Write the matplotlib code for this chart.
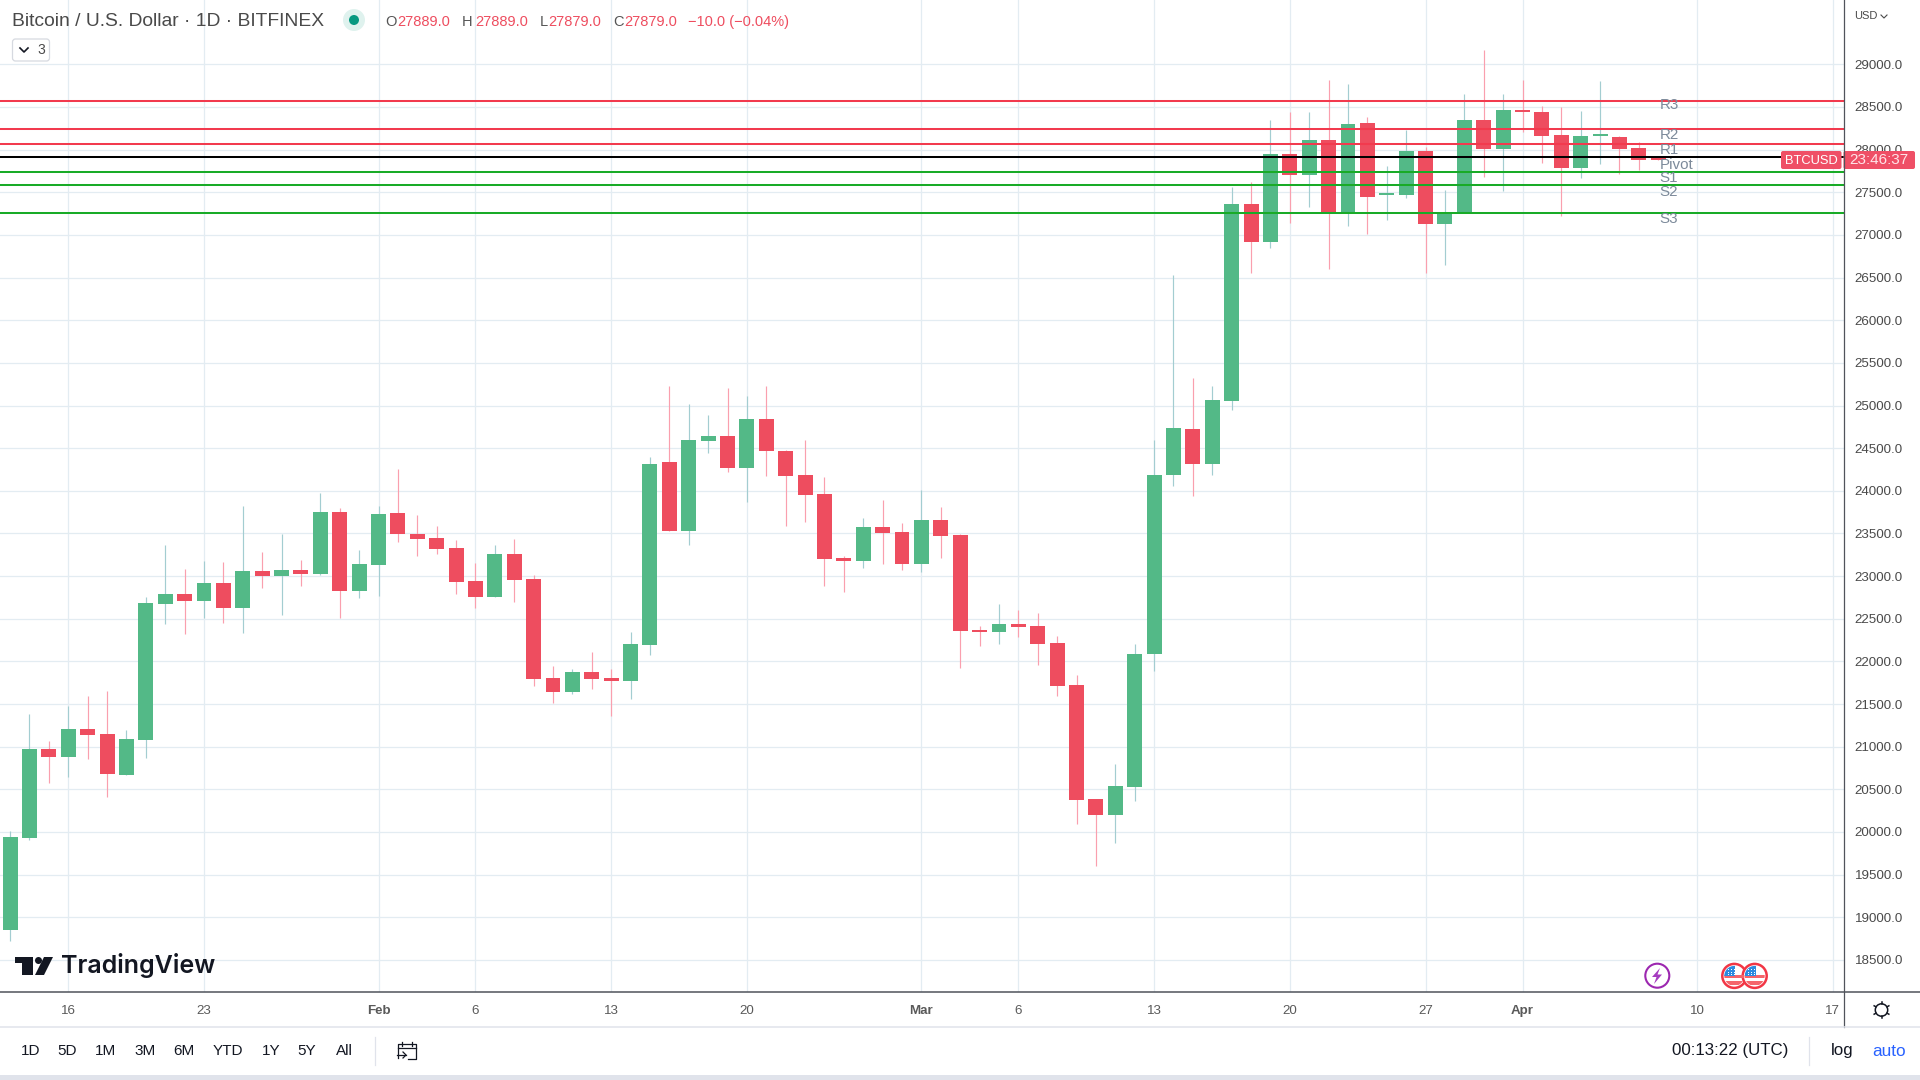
import matplotlib
matplotlib.use("Agg")
import matplotlib.pyplot as plt
from matplotlib.patches import Circle, Rectangle, FancyBboxPatch, Polygon

plt.rcParams['font.family'] = ['Liberation Sans', 'DejaVu Sans']

# --- data -----------------------------------------------------------------
opens = [18852,19934,20973,20883,21207,21148,20672,21082,22676,22789,22711,22918,22629,23058,23004,23070,23027,23750,22828,23133,
         23738,23492,23445,23328,22941,22750,23254,22961,21801,21637,21871,21801,21766,22187,24332,23523,24578,24637,24273,24836,
         24472,24191,23957,23207,23172,23570,23512,23137,23652,23480,22367,22344,22437,22414,22215,21722,20387,20199,20527,22086,
         24180,24730,24320,25047,27357,26913,27952,27707,28116,27271,28315,27462,27462,27987,27123,27271,28350,28011,28455,28443,
         28174,27789,28155,28151,28023,27889]
closes = [19941,20973,20883,21207,21140,20683,21090,22683,22789,22711,22918,22629,23058,23004,23070,23027,23750,22828,23140,23726,
          23496,23437,23320,22933,22758,23254,22949,21789,21637,21871,21789,21766,22199,24320,23523,24590,24637,24273,24836,24461,
          24179,23945,23195,23172,23570,23500,23137,23652,23465,22355,22344,22437,22402,22203,21711,20375,20199,20539,22086,24191,
          24742,24309,25070,27357,26913,27952,27707,28116,27271,28303,27450,27485,27987,27123,27271,28350,28011,28466,28435,28163,
          27789,28163,28163,28011,27882,27879]
highs = [20008,21383,21062,21476,21594,21652,21195,22754,23363,23082,23175,23164,23820,23281,23492,23187,23972,23797,23304,23820,
         24254,23715,23586,23422,23152,23359,23430,23008,21941,21906,22105,21906,22340,24402,25234,25023,24883,25211,25117,25234,
         24484,24601,24156,23230,23676,23898,23617,24015,23805,23492,22414,22672,22601,22566,22297,21840,20387,20797,22203,24601,
         26535,25328,25223,27567,27625,28350,28443,28443,28817,28770,28385,27812,28233,28034,27532,28653,29167,28653,28817,28513,
         28501,28455,28805,28163,28093,27889]
lows = [18727,19910,20578,20648,20859,20414,20672,20871,22441,22324,22508,22453,22336,22863,22547,22886,23015,22512,22746,22769,
        23402,23238,23261,22793,22629,22750,22691,21707,21508,21613,21672,21355,21555,22070,23523,23359,24449,24226,23863,24179,
        23582,23629,22879,22808,23090,23137,23066,23043,23207,21922,22179,22203,22285,21957,21594,20094,19602,19871,20363,21887,
        24062,23934,24191,24953,26551,26843,27135,27322,26597,27100,27006,27170,27438,26551,26644,27271,27684,27509,28209,27847,
        27216,27672,27836,27719,27766,27879]

level_names = ['R3', 'R2', 'R1', 'Pivot', 'S1', 'S2', 'S3']
level_values = [28572, 28245, 28069, 27917, 27742, 27590, 27255]
level_label_values = [28521, 28166, 27993, 27824, 27667, 27503, 27184]

price_ticks = [18500 + 500 * k for k in range(22)]
date_ticks = [3, 10, 19, 24, 31, 38, 47, 52, 59, 66, 73, 78, 87, 94]
date_labels = ['16', '23', 'Feb', '6', '13', '20', 'Mar', '6', '13', '20', '27', 'Apr', '10', '17']
bold_dates = ['Feb', 'Mar', 'Apr']

range_buttons = ['1D', '5D', '1M', '3M', '6M', 'YTD', '1Y', '5Y', 'All']

# --- style ----------------------------------------------------------------
GREEN, RED = '#53b987', '#ee4d5f'
GREEN_WICK, RED_WICK = '#a3cdd1', '#fa9fae'
GRID = '#e3ecf2'
LINE_RED, LINE_GREEN = '#f23a4e', '#19ab27'
DARK = '#50535b'
W, H = 1920, 1080
PANE_R, PANE_B = 1843.6, 992.3

fig = plt.figure(figsize=(19.2, 10.8), dpi=100, facecolor='white')
ax = fig.add_axes([0, 1 - PANE_B / H, PANE_R / W, PANE_B / H])
ax.set_xlim(-0.521, 94.56)
ax.set_ylim(29000 - (PANE_B - 64.3) / 0.0853, 29000 + 64.3 / 0.0853)
for s in ax.spines.values():
    s.set_visible(False)
ax.set_axisbelow(True)
ax.grid(True, color=GRID, lw=0.9)

ax.yaxis.tick_right()
ax.set_yticks(price_ticks)
ax.set_yticklabels([f'{p:.1f}' for p in price_ticks], fontsize=9.6, color='#4a4a4a')
ax.set_xticks(date_ticks)
ax.set_xticklabels(date_labels, fontsize=9.6, color='#5a5a5a')
for lab in ax.get_xticklabels():
    if lab.get_text() in bold_dates:
        lab.set_fontweight('bold')
ax.tick_params(axis='y', length=0, pad=8.0)
ax.tick_params(axis='x', length=0, pad=9.2)

xs = list(range(len(opens)))
for x, o, c, h, l in zip(xs, opens, closes, highs, lows):
    up = c >= o
    ax.vlines(x, l, h, color=GREEN_WICK if up else RED_WICK, lw=0.85, zorder=2)
    ax.bar(x, max(abs(c - o), 25), bottom=min(o, c), width=0.77,
           color=GREEN if up else RED, lw=0, zorder=3)

level_colors = [LINE_RED] * 3 + ['black'] + [LINE_GREEN] * 3
for v, col in zip(level_values, level_colors):
    ax.axhline(v, color=col, lw=1.45, zorder=4)
for name, v in zip(level_names, level_label_values):
    ax.text(85.08, v, name, fontsize=10.9, color='#7c8a9a', va='center', ha='left', zorder=5)

# --- chrome in pixel coordinates ------------------------------------------
ui = fig.add_axes([0, 0, 1, 1], facecolor='none')
ui.set_xlim(0, W)
ui.set_ylim(H, 0)
ui.axis('off')

# axis frames
ui.plot([PANE_R, PANE_R], [0, 1026.5], color=DARK, lw=0.9)
ui.plot([0, W], [PANE_B, PANE_B], color=DARK, lw=1.1)
ui.plot([0, W], [1026.5, 1026.5], color='#e0e3eb', lw=1.1)
ui.add_patch(Rectangle((0, 1075), W, 5, fc='#e0e3eb', ec='none'))

# header
ui.text(11.5, 21, 'Bitcoin / U.S. Dollar · 1D · BITFINEX', fontsize=13.9, color='#4a4a4a', va='center')
ui.add_patch(Circle((354, 20), 11, fc='#dff2ee', ec='none'))
ui.add_patch(Circle((354, 20), 5, fc='#089981', ec='none'))
ohlc_font = 10.5
for x, t, col in [(385.6, 'O', '#555555'), (397.5, '27889.0', RED), (462, 'H', '#555555'), (475, '27889.0', RED),
                  (539.5, 'L', '#555555'), (548.5, '27879.0', RED), (613, 'C', '#555555'), (624, '27879.0', RED),
                  (688, '−10.0 (−0.04%)', RED)]:
    ui.text(x, 22, t, fontsize=ohlc_font, color=col, va='center')
ui.add_patch(FancyBboxPatch((12.5, 39), 37, 22, boxstyle='round,pad=0,rounding_size=3', fc='white', ec='#d6d9e0', lw=0.9))
ui.plot([20, 24, 28], [48, 52, 48], color='#131722', lw=1.2)
ui.text(37, 50, '3', fontsize=10, color='#4a4a4a', va='center')
ui.text(1854, 16, 'USD', fontsize=8, color='#4a4a4a', va='center')
ui.plot([1881, 1884, 1887], [15, 18, 15], color='#4a4a4a', lw=0.8)

# price tags
ui.add_patch(FancyBboxPatch((1781, 151), 60.5, 18, boxstyle='round,pad=0,rounding_size=2', fc='#ef4f66', ec='none'))
ui.add_patch(FancyBboxPatch((1843.5, 151), 71.5, 18, boxstyle='round,pad=0,rounding_size=2', fc='#ef4f66', ec='none'))
ui.text(1811, 160.5, 'BTCUSD', fontsize=9.3, color='white', va='center', ha='center')
ui.text(1879, 160.5, '23:46:37', fontsize=11, color='#ffe4e8', va='center', ha='center')

# logo
ui.add_patch(Rectangle((15, 957), 18, 6, fc='#131722', ec='none'))
ui.add_patch(Rectangle((22, 957), 11, 18, fc='#131722', ec='none'))
ui.add_patch(Circle((38.5, 960.5), 3.5, fc='#131722', ec='none'))
ui.add_patch(Polygon([[44, 957], [53, 957], [44, 975], [35, 975]], fc='#131722', ec='none'))
ui.text(61, 966, 'TradingView', fontsize=18.0, fontfamily='Inter', fontweight='semibold', color='#131722', va='center')

# event icons
ui.add_patch(Circle((1657.3, 975.7), 12, fc='white', ec='#9c27b0', lw=1.5))
ui.add_patch(Polygon([[1660, 968], [1652, 977], [1656.5, 977], [1654, 984], [1662, 974.5], [1657.5, 974.5]],
                     fc='#a63cc0', ec='none'))
for cx in (1734.3, 1754.7):
    cy = 975.9
    ui.add_patch(Circle((cx, cy), 12, fc='white', ec='#f23645', lw=1.8, zorder=5))
    clip = Circle((cx, cy), 10, transform=ui.transData)
    for sy in (974.5, 981):
        r = Rectangle((cx - 11, sy), 22, 3.5, fc='#f5656b', ec='none', zorder=6)
        ui.add_patch(r)
        r.set_clip_path(clip)
    c = Rectangle((cx - 10, 965), 11, 10.5, fc='#2d8be0', ec='none', zorder=7)
    ui.add_patch(c)
    c.set_clip_path(clip)
    for dx in (-6.5, -3.5, -0.5):
        for dy in (-7, -4, -1.5):
            ui.add_patch(Rectangle((cx + dx, cy + dy), 1, 1, fc='white', ec='none', zorder=8))

# gear
ui.add_patch(Circle((1881.5, 1010), 6.2, fc='white', ec='#131722', lw=1.1))
for dx, dy in [(0, -8), (0, 8), (-7, -4), (7, -4), (-7, 4), (7, 4)]:
    ui.plot([1881.5 + dx * 0.8, 1881.5 + dx * 1.05], [1010 + dy * 0.8, 1010 + dy * 1.05], color='#131722', lw=1.1)

# toolbar
for x, t in zip([30.6, 67.4, 106, 145, 184, 228, 270.7, 307, 344], range_buttons):
    ui.text(x, 1051, t, fontsize=11, color='#131722', va='center', ha='center')
ui.plot([375, 375], [1037, 1065], color='#e0e3eb', lw=0.9)
ui.plot([1809, 1809], [1037, 1065], color='#e0e3eb', lw=0.9)
# calendar icon
ui.plot([398, 398, 416, 416, 408], [1058, 1044, 1044, 1059, 1059], color='#131722', lw=0.9)
ui.plot([398, 416], [1048, 1048], color='#131722', lw=0.9)
ui.plot([402, 402], [1042, 1046], color='#131722', lw=0.9)
ui.plot([412, 412], [1042, 1046], color='#131722', lw=0.9)
ui.plot([397, 406], [1055, 1055], color='#131722', lw=0.9)
ui.plot([403, 406, 403], [1052, 1055, 1058], color='#131722', lw=0.9)
ui.text(1730, 1051, '00:13:22 (UTC)', fontsize=12.2, color='#131722', va='center', ha='center')
ui.text(1842, 1051, 'log', fontsize=12.2, color='#131722', va='center', ha='center')
ui.text(1889, 1051, 'auto', fontsize=12.4, color='#2962ff', va='center', ha='center')

fig.savefig('out.png', dpi=100, facecolor='white')
